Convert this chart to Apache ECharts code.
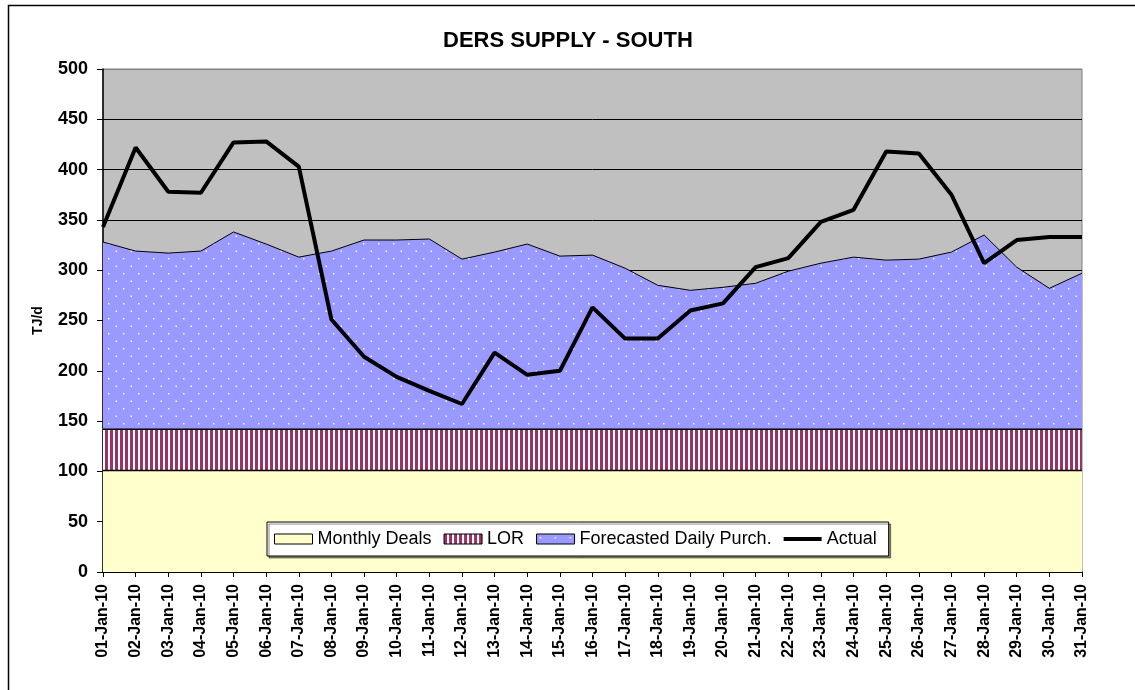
<!DOCTYPE html>
<html>
<head>
<meta charset="utf-8">
<script src="https://cdn.jsdelivr.net/npm/echarts@6/dist/echarts.min.js"></script>
<style>
html,body{margin:0;padding:0;background:#fff;}
#chart{width:1135px;height:690px;}
</style>
</head>
<body>
<div id="chart"></div>
<script>
const categories = ['01-Jan-10','02-Jan-10','03-Jan-10','04-Jan-10','05-Jan-10','06-Jan-10','07-Jan-10','08-Jan-10','09-Jan-10','10-Jan-10','11-Jan-10','12-Jan-10','13-Jan-10','14-Jan-10','15-Jan-10','16-Jan-10','17-Jan-10','18-Jan-10','19-Jan-10','20-Jan-10','21-Jan-10','22-Jan-10','23-Jan-10','24-Jan-10','25-Jan-10','26-Jan-10','27-Jan-10','28-Jan-10','29-Jan-10','30-Jan-10','31-Jan-10'];
const monthlyDeals = [101,101,101,101,101,101,101,101,101,101,101,101,101,101,101,101,101,101,101,101,101,101,101,101,101,101,101,101,101,101,101];
const lor = [41,41,41,41,41,41,41,41,41,41,41,41,41,41,41,41,41,41,41,41,41,41,41,41,41,41,41,41,41,41,41];
const forecastedDaily = [186,177,175,177,196,184,171,177,188,188,189,169,176,184,172,173,160,143,138,141,145,157,165,171,168,169,176,193,161,140,155];
const actual = [343,422,378,377,427,428,403,251,214,194,180,167,218,196,200,263,232,232,260,267,303,312,348,360,418,416,375,307,330,333,333];
const yTicks = {min:0, max:500, interval:50};

function stripePattern(){
  const c = document.createElement('canvas');
  c.width = 5; c.height = 4;
  const g = c.getContext('2d');
  g.fillStyle = '#ffffff'; g.fillRect(0,0,5,4);
  g.fillStyle = '#993366'; g.fillRect(0,0,3,4);
  return {image:c, repeat:'repeat'};
}
function dotPattern(){
  const c = document.createElement('canvas');
  c.width = 15; c.height = 15;
  const g = c.getContext('2d');
  g.fillStyle = '#9999FF'; g.fillRect(0,0,15,15);
  g.fillStyle = 'rgba(255,255,255,0.95)';
  g.fillRect(3,3,1.5,1.5);
  g.fillRect(10.5,10.5,1.5,1.5);
  return {image:c, repeat:'repeat'};
}
const stripes = stripePattern();
const dots = dotPattern();

// split line colours: black, except the top (500) edge which is grey like the plot border
const splitColors = [];
for (let v = yTicks.min; v <= yTicks.max; v += yTicks.interval) {
  splitColors.push(v === yTicks.max ? '#808080' : '#000000');
}

const chart = echarts.init(document.getElementById('chart'), null, {renderer:'canvas'});
const font = 'Liberation Sans, Arial, sans-serif';
chart.setOption({
  animation:false,
  backgroundColor:'#ffffff',
  textStyle:{fontFamily:font},
  title:{
    text:'DERS SUPPLY - SOUTH',
    left:443, top:30, padding:0,
    textStyle:{fontFamily:font, fontWeight:'bold', fontSize:22, color:'#000'}
  },
  graphic:[{
    type:'rect', silent:true, z:-1,
    shape:{x:8.5, y:5.5, width:1300, height:900},
    style:{fill:null, stroke:'#000', lineWidth:1.5}
  }],
  legend:{
    left:267, top:522,
    padding:[6,12,6,7],
    itemGap:12, itemWidth:38, itemHeight:10,
    backgroundColor:'#ffffff',
    borderColor:'#000', borderWidth:1,
    shadowColor:'rgba(0,0,0,0.45)', shadowOffsetX:2, shadowOffsetY:2, shadowBlur:0,
    textStyle:{fontFamily:font, fontSize:18, color:'#000', lineHeight:22},
    data:[
      {name:'Monthly Deals', icon:'rect', itemStyle:{color:'#FFFFCC', borderColor:'#000', borderWidth:1}},
      {name:'LOR', icon:'rect', itemStyle:{color:stripes, borderColor:'#000', borderWidth:1}},
      {name:'Forecasted Daily Purch.', icon:'rect', itemStyle:{color:dots, borderColor:'#000', borderWidth:1}},
      {name:'Actual', icon:'path://M0,0 L0.01,0 L0,0.01 Z M0,2.8 L40,2.8 L40,7.2 L0,7.2 Z M40,10 L39.99,10 L40,9.99 Z',
       itemStyle:{color:'#000', borderWidth:0}}
    ]
  },
  grid:{
    left:103, right:53, top:69, bottom:118,
    show:true, backgroundColor:'#C0C0C0', borderColor:'#808080', borderWidth:1
  },
  xAxis:{
    type:'category', data:categories, boundaryGap:false,
    axisLine:{lineStyle:{color:'#000', width:1.5}},
    axisTick:{show:true, interval:0, length:5, lineStyle:{color:'#000', width:1}},
    axisLabel:{interval:0, rotate:90, margin:12, fontFamily:font, fontWeight:'bold', fontSize:16, color:'#000'},
    splitLine:{show:false}
  },
  yAxis:{
    type:'value', min:yTicks.min, max:yTicks.max, interval:yTicks.interval,
    name:'TJ/d', nameLocation:'middle', nameRotate:90, nameGap:58,
    nameTextStyle:{fontFamily:font, fontWeight:'bold', fontSize:14, color:'#000'},
    axisLine:{show:true, lineStyle:{color:'#000', width:1.5}},
    axisTick:{show:true, length:6, lineStyle:{color:'#000', width:1}},
    axisLabel:{margin:15, fontFamily:font, fontWeight:'bold', fontSize:18, color:'#000'},
    splitLine:{show:true, lineStyle:{color:splitColors, width:1}}
  },
  series:[
    {name:'Monthly Deals', type:'line', stack:'supply', data:monthlyDeals, symbol:'none',
     itemStyle:{color:'#FFFFCC'},
     lineStyle:{color:'#000', width:1.5}, areaStyle:{color:'#FFFFCC', opacity:1}, z:2},
    {name:'LOR', type:'line', stack:'supply', data:lor, symbol:'none',
     itemStyle:{color:'#993366'},
     lineStyle:{color:'#000', width:1.5}, areaStyle:{color:stripes, opacity:1}, z:2},
    {name:'Forecasted Daily Purch.', type:'line', stack:'supply', data:forecastedDaily, symbol:'none',
     itemStyle:{color:'#9999FF'},
     lineStyle:{color:'#000', width:1}, areaStyle:{color:dots, opacity:1}, z:2},
    {name:'Actual', type:'line', data:actual, symbol:'none',
     itemStyle:{color:'#000'},
     lineStyle:{color:'#000', width:4}, z:5}
  ]
});
</script>
</body>
</html>
